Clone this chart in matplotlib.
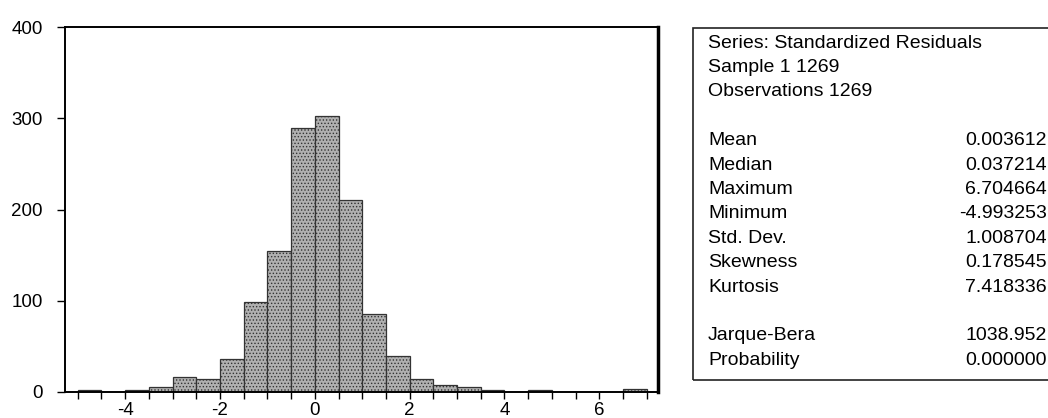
import numpy as np
import matplotlib
matplotlib.use("Agg")
import matplotlib.pyplot as plt
from matplotlib.patches import Rectangle
from matplotlib.ticker import MultipleLocator

plt.rcParams['font.family'] = ['Liberation Sans', 'DejaVu Sans']
plt.rcParams['axes.unicode_minus'] = False
plt.rcParams['hatch.linewidth'] = 0.6

# histogram of standardized residuals, bins of width 0.5 from -5 to 7
bin_left = np.arange(-5.0, 7.0, 0.5)
counts = [2, 0, 2, 5, 16, 14, 36, 99, 155, 289, 302, 210,
          85, 40, 14, 8, 6, 2, 0, 2, 0, 0, 0, 3]

stat_names = ["Mean", "Median", "Maximum", "Minimum", "Std. Dev.", "Skewness", "Kurtosis"]
stat_values = ["0.003612", "0.037214", "6.704664", "-4.993253", "1.008704", "0.178545", "7.418336"]
test_names = ["Jarque-Bera", "Probability"]
test_values = ["1038.952", "0.000000"]
header = ["Series: Standardized Residuals", "Sample 1 1269", "Observations 1269"]

W, H = 1048, 418
fig = plt.figure(figsize=(W / 100, H / 100), dpi=100)
ax = fig.add_axes([65 / W, 1 - 392 / H, (658 - 65) / W, (392 - 27) / H])

ax.bar(bin_left, counts, width=0.5, align='edge', facecolor='#b0b0b0',
       edgecolor='#333333', linewidth=0.9, hatch='.....')

ax.set_xlim(-5.27, 7.24)
ax.set_ylim(0, 400)
ax.xaxis.set_major_locator(MultipleLocator(2))
ax.xaxis.set_minor_locator(MultipleLocator(0.5))
ax.yaxis.set_major_locator(MultipleLocator(100))
ax.tick_params(axis='x', which='both', direction='out', length=5, width=1, labelsize=13.5, pad=2)
ax.tick_params(axis='y', direction='out', length=6, width=1, labelsize=13.5, pad=10)
ax.tick_params(top=False, right=False)
for side in ['left', 'bottom', 'top']:
    ax.spines[side].set_linewidth(1.4)
ax.spines['right'].set_linewidth(2.5)

# statistics panel
box = Rectangle((693 / W, 1 - 380 / H), 400 / W, (380 - 28) / H, transform=fig.transFigure,
                facecolor='none', edgecolor='#222222', linewidth=1.2, clip_on=False)
fig.patches.append(box)

x_lab = 708 / W
x_val = 1047 / W
row_h = 24.4
y0 = 43
fs = 14


def put_row(i, label, value=None):
    y = 1 - (y0 + i * row_h) / H
    fig.text(x_lab, y, label, fontsize=fs, ha='left', va='center')
    if value is not None:
        fig.text(x_val, y, value, fontsize=fs, ha='right', va='center')


for i, line in enumerate(header):
    put_row(i, line)
for i, (n, v) in enumerate(zip(stat_names, stat_values)):
    put_row(4 + i, n, v)
for i, (n, v) in enumerate(zip(test_names, test_values)):
    put_row(12 + i, n, v)

fig.savefig("out.png", dpi=100)
